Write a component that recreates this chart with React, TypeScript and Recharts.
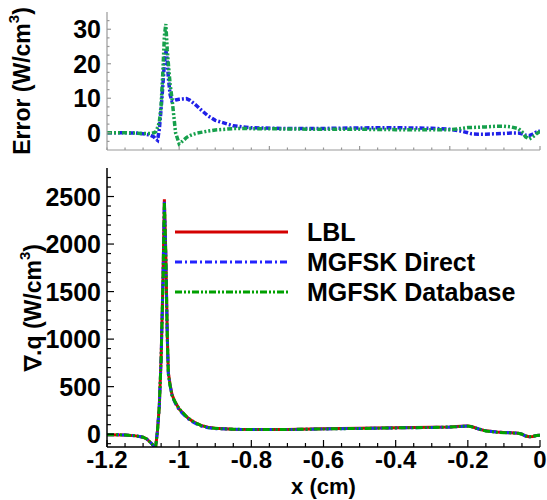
import React from 'react';
import { LineChart, Line, XAxis, YAxis, Legend, Label } from 'recharts';

const FONT = '"Liberation Sans", Arial, Helvetica, sans-serif';

// x positions (cm)
const xValues = [
  -1.2, -1.15, -1.12, -1.1, -1.09, -1.08, -1.07, -1.065, -1.06, -1.055,
  -1.05, -1.045, -1.041, -1.037, -1.033, -1.03, -1.025, -1.02, -1.015, -1.01,
  -1.0, -0.99, -0.98, -0.97, -0.96, -0.95, -0.94, -0.92, -0.9, -0.85,
  -0.8, -0.7, -0.6, -0.5, -0.4, -0.3, -0.25, -0.22, -0.2, -0.19,
  -0.17, -0.15, -0.12, -0.1, -0.08, -0.06, -0.05, -0.04, -0.03, -0.02,
  -0.01, 0,
];

// divergence of radiative flux (W/cm^3)
const lbl = [
  -5, -8, -18, -32, -50, -85, -125, -130, 40, 300,
  800, 1600, 2470, 1900, 1050, 650, 520, 420, 370, 330,
  265, 225, 185, 155, 130, 110, 92, 72, 62, 53,
  49, 50, 56, 61, 67, 72, 76, 82, 87, 80,
  55, 35, 22, 18, 15, 10, 0, -20, -28, -25,
  -15, -10,
];
const mgfskDirect = [
  -5, -8, -18, -32, -50, -85, -124, -128, 42, 302,
  795, 1585, 2448, 1877, 1032, 634, 510, 411, 361, 320,
  255, 215, 176, 147, 122, 103, 86, 67, 58, 51,
  48, 49, 55, 60, 66, 71, 75, 81, 87, 80,
  55, 35, 22, 18, 15, 10, 0, -19, -27, -25,
  -15, -10,
];
const mgfskDatabase = [
  -5, -8, -18, -32, -50, -85, -125, -130, 38, 297,
  792, 1578, 2438, 1869, 1028, 630, 506, 410, 365, 330,
  268, 227, 186, 156, 130, 110, 92, 71, 61, 52,
  48, 49, 55, 60, 66, 71, 75, 81, 85, 78,
  53, 33, 20, 16, 13, 9, 0, -19, -26, -24,
  -15, -10,
];

// error (W/cm^3)
const errDirect = [
  0, 0, -0.1, -0.3, -0.5, -0.7, -1.2, -1.8, -2.2, 1,
  7, 14, 20, 24, 21, 16, 11, 9.2, 9.3, 9.5,
  9.7, 9.8, 9.9, 9.4, 8.6, 7.7, 6.7, 4.9, 3.6, 2.0,
  1.45, 1.2, 1.25, 1.4, 1.45, 1.3, 1.0, 0.5, 0.0, -0.3,
  -0.4, -0.4, -0.3, -0.2, -0.1, -0.1, -0.3, -0.7, -0.8, -0.4,
  0.2, 0.5,
];
const errDatabase = [
  0, 0, -0.1, -0.2, -0.2, -0.2, 0, 0.3, 1.5, 3,
  8, 18, 28, 31.5, 24, 20, 14, 10, 5, 0,
  -3.2, -2.4, -1.4, -0.8, -0.4, -0.1, 0.1, 0.5, 0.8, 1.2,
  1.2, 1.1, 1.0, 1.0, 0.9, 0.9, 0.9, 1.2, 1.5, 1.5,
  1.6, 1.7, 1.9, 1.9, 1.7, 1.2, 0.3, -1.2, -1.8, -1.2,
  -0.3, 0.4,
];

const seriesNames = ['LBL', 'MGFSK Direct', 'MGFSK Database'];

// tick values
const xTicks = [
  -1.2, -1.15, -1.1, -1.05, -1.0, -0.95, -0.9, -0.85, -0.8, -0.75, -0.7, -0.65, -0.6,
  -0.55, -0.5, -0.45, -0.4, -0.35, -0.3, -0.25, -0.2, -0.15, -0.1, -0.05, 0,
];
const xMajorBottom = [-1.2, -1, -0.8, -0.6, -0.4, -0.2, 0];
const xMajorBottomLabels = ['-1.2', '-1', '-0.8', '-0.6', '-0.4', '-0.2', '0'];
const xMajorTop = [-1, -0.75, -0.5, -0.25, 0];
const yTicksTop = [-2.5, 0, 2.5, 5, 7.5, 10, 12.5, 15, 17.5, 20, 22.5, 25, 27.5, 30, 32.5];
const yMajorTop = [0, 10, 20, 30];
const yMajorTopLabels = ['0', '10', '20', '30'];
const yTicksBottom = [
  -100, 0, 100, 200, 300, 400, 500, 600, 700, 800, 900, 1000, 1100, 1200, 1300, 1400,
  1500, 1600, 1700, 1800, 1900, 2000, 2100, 2200, 2300, 2400, 2500, 2600, 2700,
];
const yMajorBottom = [0, 500, 1000, 1500, 2000, 2500];
const yMajorBottomLabels = ['0', '500', '1000', '1500', '2000', '2500'];

const rows = xValues.map((x, i) => ({
  x,
  lbl: lbl[i],
  direct: mgfskDirect[i],
  database: mgfskDatabase[i],
  errDirect: errDirect[i],
  errDatabase: errDatabase[i],
}));

const findIdx = (arr: number[], v: number) => arr.findIndex((m) => Math.abs(m - v) < 1e-6);

function makeXTick(majors: number[], labels: string[] | null, color: string, majorLen: number, minorLen: number) {
  return (props: any) => {
    const { x, y, payload } = props;
    const idx = findIdx(majors, payload.value);
    const major = idx >= 0;
    return (
      <g>
        <line x1={x} x2={x} y1={y} y2={y - (major ? majorLen : minorLen)} stroke={color} strokeWidth={1.2} />
        {major && labels ? (
          <text x={x} y={y + 21} textAnchor="middle" fontSize={24} fontWeight="bold" fontFamily={FONT} fill="#000">
            {labels[idx]}
          </text>
        ) : null}
      </g>
    );
  };
}

function makeYTick(majors: number[], labels: string[], color: string, majorLen: number, minorLen: number) {
  return (props: any) => {
    const { x, y, payload } = props;
    const idx = findIdx(majors, payload.value);
    const major = idx >= 0;
    return (
      <g>
        <line x1={x} x2={x + (major ? majorLen : minorLen)} y1={y} y2={y} stroke={color} strokeWidth={1.2} />
        {major ? (
          <text x={x - 6} y={y} dy="0.36em" textAnchor="end" fontSize={25} fontWeight="bold" fontFamily={FONT} fill="#000">
            {labels[idx]}
          </text>
        ) : null}
      </g>
    );
  };
}

function makeYTitle(main: string, cxAbs: number) {
  return (props: any) => {
    const vb = props.viewBox || {};
    const cx = cxAbs;
    const cy = (vb.y ?? 12) + (vb.height ?? 138) / 2;
    return (
      <text
        x={cx}
        y={cy}
        transform={`rotate(-90, ${cx}, ${cy})`}
        textAnchor="middle"
        dominantBaseline="central"
        fontSize={23}
        fontFamily={FONT}
        fontWeight="bold"
        fill="#000"
      >
        {main}
        <tspan dy={-9} fontSize={15}>3</tspan>
        <tspan dy={9}>)</tspan>
      </text>
    );
  };
}

function makeXTitle(text: string) {
  return (props: any) => {
    const vb = props.viewBox || {};
    const cx = (vb.x ?? 107) + (vb.width ?? 433) / 2;
    const cy = (vb.y ?? 287) + 47;
    return (
      <text x={cx} y={cy} textAnchor="middle" fontSize={22} fontFamily={FONT} fontWeight="bold" fill="#000">
        {text}
      </text>
    );
  };
}

const legendStyles = [
  { color: '#d40000', dash: undefined as string | undefined },
  { color: '#2222ff', dash: '7 3 2 3' },
  { color: '#00a000', dash: '7 2 2 2 2 2' },
];

const LegendBox = () => (
  <svg width={370} height={90} style={{ display: 'block' }}>
    {seriesNames.map((name, i) => (
      <g key={name}>
        <line
          x1={0}
          x2={113}
          y1={15 + i * 30}
          y2={15 + i * 30}
          stroke={legendStyles[i].color}
          strokeWidth={3}
          strokeDasharray={legendStyles[i].dash}
        />
        <text x={132} y={15 + i * 30} dy="0.36em" fontSize={25} fontWeight="bold" fontFamily={FONT} fill="#000">
          {name}
        </text>
      </g>
    ))}
  </svg>
);

export default function App() {
  return (
    <div style={{ position: 'absolute', left: 0, top: 0, width: 547, height: 500, background: '#fff' }}>
      <div style={{ position: 'absolute', left: 0, top: 0 }}>
        <LineChart width={547} height={160} data={rows} margin={{ top: 12, right: 7, left: 0, bottom: 0 }}>
          <XAxis
            dataKey="x"
            type="number"
            domain={[-1.2, 0]}
            allowDataOverflow
            ticks={xTicks}
            interval={0}
            height={10}
            tickSize={0}
            tickMargin={0}
            tickLine={false}
            axisLine={{ stroke: '#999', strokeWidth: 1.2 }}
            tick={makeXTick(xMajorTop, null, '#999', 4, 2.5)}
          />
          <YAxis
            type="number"
            domain={[-5, 35]}
            allowDataOverflow
            ticks={yTicksTop}
            interval={0}
            width={107}
            tickSize={0}
            tickMargin={0}
            tickLine={false}
            axisLine={{ stroke: '#999', strokeWidth: 1.2 }}
            tick={makeYTick(yMajorTop, yMajorTopLabels, '#999', 4, 2.5)}
          >
            <Label content={makeYTitle('Error (W/cm', 22)} />
          </YAxis>
          <Line
            type="linear"
            dataKey="errDirect"
            name="MGFSK Direct"
            stroke="#2020e8"
            strokeWidth={3.5}
            strokeDasharray="5 2 2 2"
            dot={false}
            isAnimationActive={false}
          />
          <Line
            type="linear"
            dataKey="errDatabase"
            name="MGFSK Database"
            stroke="#16a04c"
            strokeWidth={3.5}
            strokeDasharray="5 2 2 2 2 2"
            dot={false}
            isAnimationActive={false}
          />
        </LineChart>
      </div>
      <div style={{ position: 'absolute', left: 0, top: 160 }}>
        <LineChart width={547} height={340} data={rows} margin={{ top: 8, right: 7, left: 0, bottom: 0 }}>
          <XAxis
            dataKey="x"
            type="number"
            domain={[-1.2, 0]}
            allowDataOverflow
            ticks={xTicks}
            interval={0}
            height={53}
            tickSize={0}
            tickMargin={0}
            tickLine={false}
            axisLine={{ stroke: '#000', strokeWidth: 1.5 }}
            tick={makeXTick(xMajorBottom, xMajorBottomLabels, '#000', 7, 4)}
          >
            <Label content={makeXTitle('x (cm)')} />
          </XAxis>
          <YAxis
            type="number"
            domain={[-135, 2800]}
            allowDataOverflow
            ticks={yTicksBottom}
            interval={0}
            width={107}
            tickSize={0}
            tickMargin={0}
            tickLine={false}
            axisLine={{ stroke: '#000', strokeWidth: 1.5 }}
            tick={makeYTick(yMajorBottom, yMajorBottomLabels, '#000', 7, 4)}
          >
            <Label content={makeYTitle('\u2207.q (W/cm', 33)} />
          </YAxis>
          <Legend
            layout="vertical"
            align="center"
            verticalAlign="middle"
            content={() => <LegendBox />}
            wrapperStyle={{ left: 175, top: 57, width: 370, height: 90 }}
          />
          <Line
            type="linear"
            dataKey="lbl"
            name="LBL"
            stroke="#d40000"
            strokeWidth={3}
            dot={false}
            isAnimationActive={false}
          />
          <Line
            type="linear"
            dataKey="direct"
            name="MGFSK Direct"
            stroke="#2222ff"
            strokeWidth={3}
            strokeDasharray="7 3 2 3"
            dot={false}
            isAnimationActive={false}
          />
          <Line
            type="linear"
            dataKey="database"
            name="MGFSK Database"
            stroke="#00a000"
            strokeWidth={3}
            strokeDasharray="7 2 2 2 2 2"
            dot={false}
            isAnimationActive={false}
          />
        </LineChart>
      </div>
    </div>
  );
}
